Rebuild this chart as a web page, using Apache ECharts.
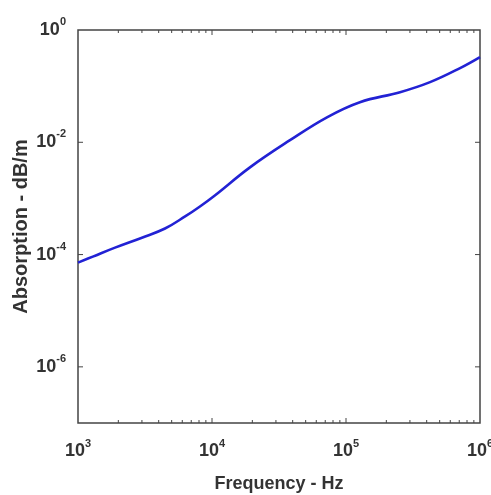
<!DOCTYPE html>
<html>
<head>
<meta charset="utf-8">
<script src="https://cdn.jsdelivr.net/npm/echarts@6/dist/echarts.min.js"></script>
<style>
  html, body { margin: 0; padding: 0; background: #fff; }
  #chart { width: 491px; height: 495px; }
</style>
</head>
<body>
<div id="chart"></div>
<script>
// values
const freqHz = [1000, 1290, 1890, 3000, 4460, 6300, 8130, 10500, 19200, 38200, 72100, 127000, 253000, 424000, 710000, 1000000];
const absorption = [7.2e-5, 9.2e-5, 1.33e-4, 2.0e-4, 2.91e-4, 4.78e-4, 7.2e-4, 1.13e-3, 3.58e-3, 1.09e-2, 2.79e-2, 5.18e-2, 7.81e-2, 0.118, 0.21, 0.33];

const xMin = 1e3, xMax = 1e6;
const yMin = 1e-7, yMax = 1;
const xMajorTicks = [1e4, 1e5];
const yMajorTicks = [1e-2, 1e-4, 1e-6];
const minorMult = [2, 3, 4, 5, 6, 7, 8, 9];
const decades = [1e3, 1e4, 1e5];

const tickData = [];
decades.forEach(d => minorMult.forEach(m => tickData.push([d * m, yMin, 0])));
xMajorTicks.forEach(v => tickData.push([v, yMin, 1]));
yMajorTicks.forEach(v => tickData.push([xMin, v, 2]));

const textColor = "#333";
const axisColor = "#444";

const powLabel = (v) => {
  const e = Math.round(Math.log10(v));
  return "{b|10}{s|" + e + "}";
};
const labelRich = {
  b: { fontSize: 18, fontWeight: "bold", color: textColor, fontFamily: "Liberation Sans" },
  s: { fontSize: 11, fontWeight: "bold", color: textColor, fontFamily: "Liberation Sans", padding: [0, 0, 16, 0] },
};

const chart = echarts.init(document.getElementById("chart"));
chart.setOption({
  animation: false,
  grid: {
    left: 78, top: 30, right: 11, bottom: 72,
    outerBoundsMode: "none",
    show: true, borderColor: axisColor, borderWidth: 1.5, backgroundColor: "#fff",
  },
  xAxis: {
    type: "log",
    logBase: 10,
    min: xMin,
    max: xMax,
    interval: 1,
    name: "Frequency - Hz",
    nameLocation: "middle",
    nameGap: 52,
    nameMoveOverlap: false,
    nameTextStyle: { fontSize: 18, fontWeight: "bold", color: textColor, fontFamily: "Liberation Sans" },
    axisLine: { show: false },
    axisTick: { show: false },
    splitLine: { show: false },
    axisLabel: { margin: 15, formatter: powLabel, rich: labelRich },
  },
  yAxis: {
    type: "log",
    logBase: 10,
    min: yMin,
    max: yMax,
    interval: 1,
    name: "Absorption - dB/m",
    nameLocation: "middle",
    nameGap: 47,
    nameMoveOverlap: false,
    nameTextStyle: { fontSize: 20, fontWeight: "bold", color: textColor, fontFamily: "Liberation Sans" },
    axisLine: { show: false },
    axisTick: { show: false },
    splitLine: { show: false },
    axisLabel: {
      margin: 12,
      formatter: (v) => {
        const e = Math.round(Math.log10(v));
        return e % 2 === 0 ? powLabel(v) : "";
      },
      rich: labelRich,
    },
  },
  series: [
    {
      type: "line",
      data: freqHz.map((f, i) => [f, absorption[i]]),
      showSymbol: false,
      smooth: 0.4,
      lineStyle: { color: "#2222d4", width: 2.6 },
      z: 3,
    },
    {
      type: "custom",
      silent: true,
      clip: false,
      data: tickData,
      encode: { x: 0, y: 1 },
      renderItem: (params, api) => {
        const kind = api.value(2);
        const st = { stroke: axisColor, lineWidth: 1 };
        if (kind < 2) {
          const len = kind === 1 ? 5 : 3;
          const x = api.coord([api.value(0), yMin])[0];
          const yb = api.coord([xMin, yMin])[1];
          const yt = api.coord([xMin, yMax])[1];
          return {
            type: "group",
            children: [
              { type: "line", shape: { x1: x, y1: yb, x2: x, y2: yb - len }, style: st },
              { type: "line", shape: { x1: x, y1: yt, x2: x, y2: yt + len }, style: st },
            ],
          };
        }
        const y = api.coord([xMin, api.value(1)])[1];
        const xl = api.coord([xMin, yMin])[0];
        const xr = api.coord([xMax, yMin])[0];
        return {
          type: "group",
          children: [
            { type: "line", shape: { x1: xl, y1: y, x2: xl + 5, y2: y }, style: st },
            { type: "line", shape: { x1: xr, y1: y, x2: xr - 5, y2: y }, style: st },
          ],
        };
      },
    },
  ],
});
</script>
</body>
</html>
